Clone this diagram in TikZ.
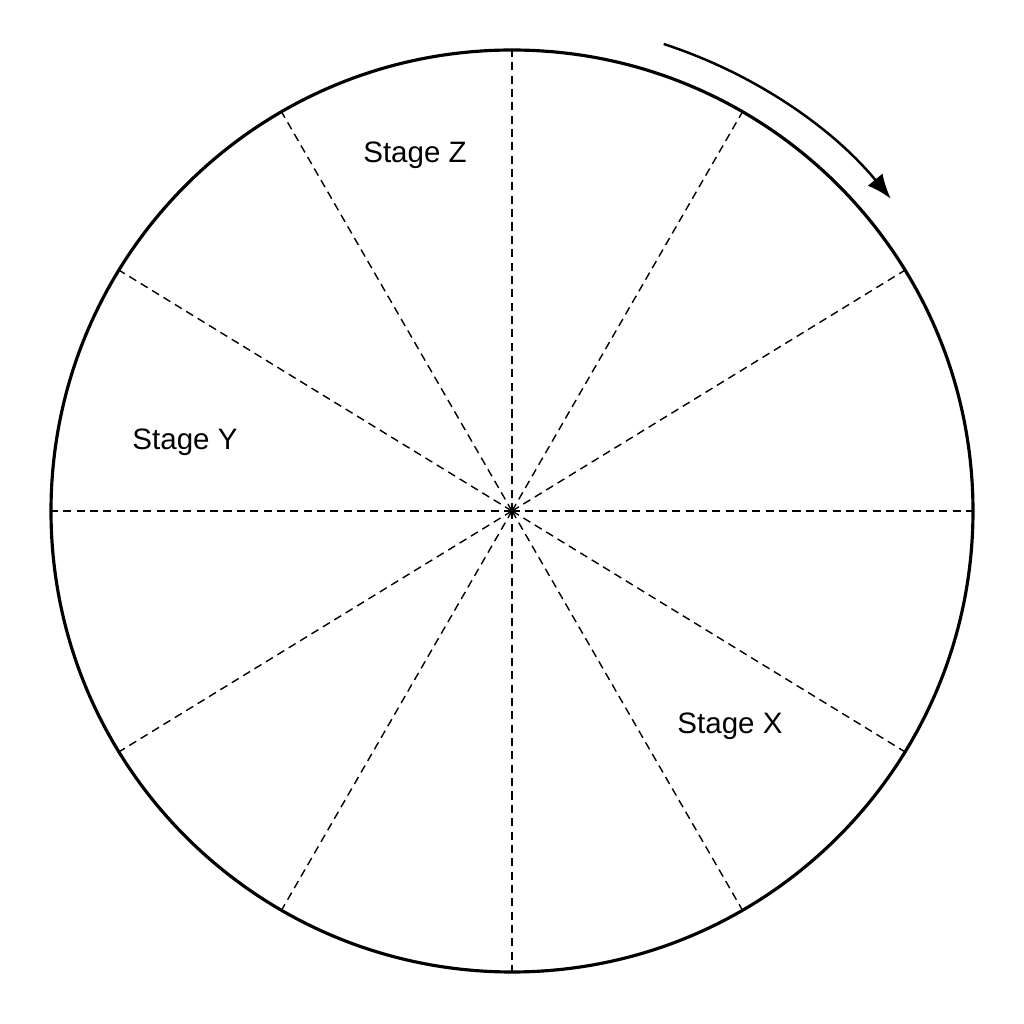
\documentclass[tikz,border=0pt]{standalone}
\usepackage{fontspec}
\setmainfont{Liberation Sans}
\usetikzlibrary{arrows.meta}

\begin{document}
\begin{tikzpicture}[
    rim/.style={line width=0.9pt},
    spoke/.style={line width=0.4pt,dash pattern=on 2.3pt off 1.5pt},
    stagelabel/.style={font=\fontsize{8.4}{10}\selectfont},
  ]
  \useasboundingbox (0,0) rectangle (10.24,10.24);

  % Outer circle.
  \coordinate (hub) at (5.12,5.13);
  \draw[rim] (hub) circle (4.61);

  % Dashed spokes.
  \foreach \a in {0,31.5,60,90,120,148.5,180,211.5,240,270,300,328.5}
    \draw[spoke] (hub) -- ++(\a:4.61);

  % Stage names.
  \node[stagelabel] (stagez) at (4.15,8.69) {Stage Z};
  \node[stagelabel] (stagey) at (1.85,5.82) {Stage Y};
  \node[stagelabel] (stagex) at (7.30,2.98) {Stage X};

  % Direction of rotation.
  \draw[line width=0.7pt,-{Latex[length=7pt,width=5.5pt]}]
    ([shift={(72:4.91)}]hub) arc[start angle=72,end angle=39.5,radius=4.91];

\end{tikzpicture}
\end{document}
